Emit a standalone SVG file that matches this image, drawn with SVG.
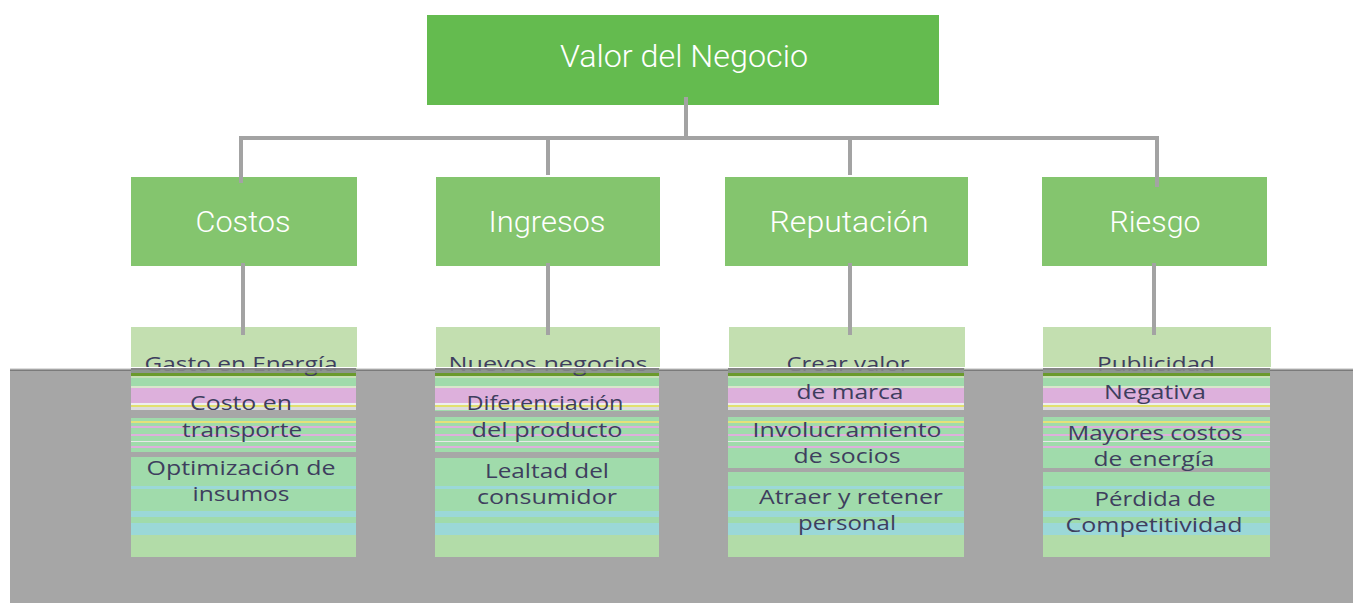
<svg xmlns="http://www.w3.org/2000/svg" width="1353" height="603" viewBox="0 0 1353 603">
<style>
.top{fill:#64bb4f}
.mid{fill:#84c56e}
.low{fill:#c3dfb0}
.strp{fill:url(#stripes)}
.gap{fill:#a7a7a7}
.t1{font-family:Roboto,"Liberation Sans",sans-serif;font-weight:300;fill:#ffffff;text-anchor:middle}
.t3{font-family:"Open Sans","Liberation Sans",sans-serif;font-size:19.5px;fill:#3e3e5e;text-anchor:middle}
.conn{stroke:#a3a3a3;stroke-width:4;fill:none}
</style>
<defs>
<pattern id="stripes" patternUnits="userSpaceOnUse" x="0" y="0" width="40" height="603">
<rect x="0" y="0" width="40" height="603" fill="#a0dbab"/>
<rect x="0" y="368" width="40" height="2" fill="#7c7c7c"/>
<rect x="0" y="373" width="40" height="3" fill="#6a9a2c"/>
<rect x="0" y="376" width="40" height="2" fill="#c6e0b6"/>
<rect x="0" y="386" width="40" height="2" fill="#d8e6cc"/>
<rect x="0" y="388" width="40" height="15" fill="#ddb0dc"/>
<rect x="0" y="403" width="40" height="2" fill="#eeeeee"/>
<rect x="0" y="405" width="40" height="2" fill="#e2e070"/>
<rect x="0" y="407" width="40" height="3" fill="#dddddd"/>
<rect x="0" y="421" width="40" height="2" fill="#e4e27a"/>
<rect x="0" y="426" width="40" height="2" fill="#ddb0dc"/>
<rect x="0" y="434" width="40" height="2" fill="#ddb0dc"/>
<rect x="0" y="441" width="40" height="1" fill="#e8e8e8"/>
<rect x="0" y="446" width="40" height="2" fill="#ddb0dc"/>
<rect x="0" y="486" width="40" height="3" fill="#9bd8d8"/>
<rect x="0" y="511" width="40" height="6" fill="#9bd8d8"/>
<rect x="0" y="523" width="40" height="12" fill="#9bd8d8"/>
<rect x="0" y="535" width="40" height="22" fill="#b2dca8"/>
</pattern>
</defs>
<rect x="0" y="0" width="1353" height="603" fill="#ffffff"/>
<g id="band">
<rect x="10" y="368" width="1343" height="235" fill="#a6a6a6"/>
<rect x="10" y="367" width="140" height="1" fill="#c8b89a"/>
<rect x="10" y="370" width="1343" height="1" fill="#7a7a7a"/>
<rect x="10" y="368" width="1343" height="1" fill="#dddddd"/>
</g>
<g id="n-valor">
<rect class="top" x="427" y="15" width="512" height="90"/>
<text class="t1" x="684" y="67" font-size="31" textLength="248" lengthAdjust="spacingAndGlyphs">Valor del Negocio</text>
</g>
<g id="n-costos">
<rect class="mid" x="131" y="177" width="226" height="89"/>
<text class="t1" x="243" y="232" font-size="30" textLength="95" lengthAdjust="spacingAndGlyphs">Costos</text>
</g>
<g id="n-ingresos">
<rect class="mid" x="436" y="177" width="224" height="89"/>
<text class="t1" x="547" y="232" font-size="30" textLength="117" lengthAdjust="spacingAndGlyphs">Ingresos</text>
</g>
<g id="n-reputacion">
<rect class="mid" x="725" y="177" width="243" height="89"/>
<text class="t1" x="849" y="232" font-size="30" textLength="159" lengthAdjust="spacingAndGlyphs">Reputación</text>
</g>
<g id="n-riesgo">
<rect class="mid" x="1042" y="177" width="225" height="89"/>
<text class="t1" x="1155" y="232" font-size="30" textLength="91" lengthAdjust="spacingAndGlyphs">Riesgo</text>
</g>
<g id="d-costos">
<rect class="low" x="131" y="327" width="226" height="42"/>
<rect class="strp" x="131" y="368" width="225" height="189"/>
<rect class="gap" x="131" y="410" width="225" height="8"/>
<rect class="gap" x="131" y="452" width="225" height="5"/>
<text class="t3" x="241" y="371" textLength="193" lengthAdjust="spacingAndGlyphs">Gasto en Energía</text>
<text class="t3" x="241" y="410" textLength="102" lengthAdjust="spacingAndGlyphs">Costo en</text>
<text class="t3" x="242" y="437" textLength="120" lengthAdjust="spacingAndGlyphs">transporte</text>
<text class="t3" x="241" y="475" textLength="189" lengthAdjust="spacingAndGlyphs">Optimización de</text>
<text class="t3" x="241" y="501" textLength="97" lengthAdjust="spacingAndGlyphs">insumos</text>
</g>
<g id="d-ingresos">
<rect class="low" x="436" y="327" width="224" height="42"/>
<rect class="strp" x="435" y="368" width="224" height="189"/>
<rect class="gap" x="435" y="411" width="224" height="6"/>
<rect class="gap" x="435" y="452" width="224" height="6"/>
<text class="t3" x="548" y="371" textLength="199" lengthAdjust="spacingAndGlyphs">Nuevos negocios</text>
<text class="t3" x="545" y="410" textLength="157" lengthAdjust="spacingAndGlyphs">Diferenciación</text>
<text class="t3" x="547" y="437" textLength="151" lengthAdjust="spacingAndGlyphs">del producto</text>
<text class="t3" x="547" y="478" textLength="124" lengthAdjust="spacingAndGlyphs">Lealtad del</text>
<text class="t3" x="547" y="504" textLength="140" lengthAdjust="spacingAndGlyphs">consumidor</text>
</g>
<g id="d-reputacion">
<rect class="low" x="729" y="327" width="236" height="42"/>
<rect class="strp" x="728" y="368" width="236" height="189"/>
<rect class="gap" x="728" y="410" width="236" height="7"/>
<rect class="gap" x="728" y="468" width="236" height="4"/>
<text class="t3" x="848" y="371" textLength="123" lengthAdjust="spacingAndGlyphs">Crear valor</text>
<text class="t3" x="850" y="399" textLength="107" lengthAdjust="spacingAndGlyphs">de marca</text>
<text class="t3" x="847" y="437" textLength="189" lengthAdjust="spacingAndGlyphs">Involucramiento</text>
<text class="t3" x="847" y="463" textLength="107" lengthAdjust="spacingAndGlyphs">de socios</text>
<text class="t3" x="851" y="504" textLength="184" lengthAdjust="spacingAndGlyphs">Atraer y retener</text>
<text class="t3" x="847" y="530" textLength="98" lengthAdjust="spacingAndGlyphs">personal</text>
</g>
<g id="d-riesgo">
<rect class="low" x="1043" y="327" width="228" height="42"/>
<rect class="strp" x="1043" y="368" width="227" height="189"/>
<rect class="gap" x="1043" y="410" width="227" height="7"/>
<rect class="gap" x="1043" y="468" width="227" height="4"/>
<text class="t3" x="1156" y="371" textLength="118" lengthAdjust="spacingAndGlyphs">Publicidad</text>
<text class="t3" x="1155" y="399" textLength="102" lengthAdjust="spacingAndGlyphs">Negativa</text>
<text class="t3" x="1155" y="440" textLength="175" lengthAdjust="spacingAndGlyphs">Mayores costos</text>
<text class="t3" x="1154" y="466" textLength="121" lengthAdjust="spacingAndGlyphs">de energía</text>
<text class="t3" x="1155" y="506" textLength="121" lengthAdjust="spacingAndGlyphs">Pérdida de</text>
<text class="t3" x="1154" y="532" textLength="177" lengthAdjust="spacingAndGlyphs">Competitividad</text>
</g>
<g id="glitch">
<rect x="131" y="368" width="225" height="5" fill="#8a8a8a" opacity="0.85"/>
<rect x="435" y="368" width="224" height="5" fill="#8a8a8a" opacity="0.85"/>
<rect x="728" y="368" width="236" height="5" fill="#8a8a8a" opacity="0.85"/>
<rect x="1043" y="368" width="227" height="5" fill="#8a8a8a" opacity="0.85"/>
<rect x="10" y="367" width="1343" height="1" fill="#ffffff"/>
</g>
<g id="connectors">
<path class="conn" d="M686 97V138"/>
<path class="conn" d="M241 183V138H1157V187"/>
<path class="conn" d="M548 138V175"/>
<path class="conn" d="M850 138V175"/>
<path class="conn" d="M243 263V335"/>
<path class="conn" d="M548 263V335"/>
<path class="conn" d="M850 263V335"/>
<path class="conn" d="M1154 263V335"/>
</g>
</svg>
